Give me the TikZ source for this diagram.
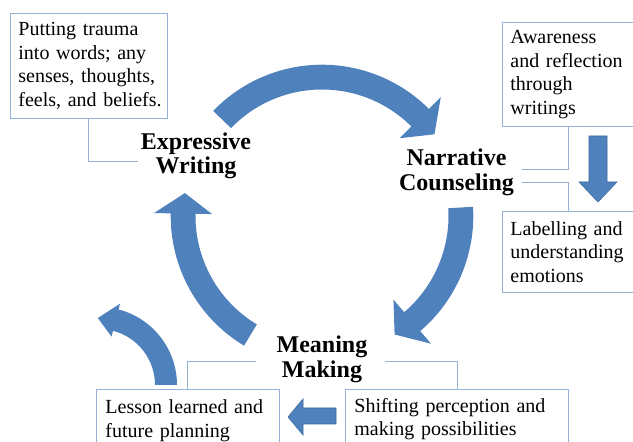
\documentclass[tikz,border=0pt]{standalone}
\usepackage{fontspec}
\setmainfont{Liberation Serif}
\definecolor{arrowblue}{HTML}{4F81BD}
\definecolor{arrowedge}{HTML}{3C6A9E}
\definecolor{boxline}{HTML}{95B3D7}
\begin{document}
\begin{tikzpicture}[x=1pt,y=1pt,
  box/.style={draw=boxline, line width=0.8pt, rectangle, anchor=north west, align=left,
    inner xsep=8pt, inner ysep=0pt, font=\fontsize{20}{23.5}\selectfont},
  lbl/.style={align=center, font=\bfseries\fontsize{24}{24.5}\selectfont, inner sep=0pt},
  conn/.style={draw=boxline, line width=0.8pt},
  ring/.style={fill=arrowblue},
  block/.style={fill=arrowblue, draw=arrowedge, line width=0.6pt, line join=miter}]
\clip (0,0) rectangle (633,442);
% boxes
\node[box, text width=141pt, minimum height=105pt] (b1) at (10,429)
  {\mbox{Putting trauma}\\\mbox{into words; any}\\\mbox{senses, thoughts,}\\\mbox{feels, and beliefs.}};
\node[box, text width=124pt, minimum height=104pt] (b2) at (502,420)
  {\mbox{Awareness}\\\mbox{and reflection}\\\mbox{through}\\\mbox{writings}};
\node[box, text width=124pt, minimum height=81pt] (b3) at (502,231)
  {\mbox{Labelling and}\\\mbox{understanding}\\\mbox{emotions}};
\node[box, inner xsep=9pt, text width=165pt, minimum height=62.6pt] (b4) at (96,53)
  {\mbox{Lesson learned and}\\\mbox{future planning}};
\node[box, inner xsep=9pt, text width=205pt, minimum height=59.6pt] (b5) at (345,53)
  {\mbox{Shifting perception and}\\\mbox{making possibilities}};
% labels
\node[lbl] (ew) at (196,286.1) {Expressive\\Writing};
\node[lbl] (nc) at (456.5,269.9) {Narrative\\Counseling};
\node[lbl] (mm) at (322,82.7) {Meaning\\Making};
% connectors
\coordinate (e1) at (138,281);
\draw[conn] ([xshift=78pt]b1.south west) |- (e1);
\coordinate (e2) at (522,273);
\draw[conn] ([xshift=66pt]b2.south west) |- (e2);
\coordinate (e3) at (522,260);
\draw[conn] (e3) -| ([xshift=66pt]b3.north west);
\coordinate (e4) at (256,81);
\draw[conn] ([xshift=91pt]b4.north west) |- (e4);
\coordinate (e5) at (385,81);
\draw[conn] ([xshift=112pt]b5.north west) |- (e5);
% ring arrows
\begin{scope}[shift={(322,226)}]
\fill[ring] (136:151.3) arc[start angle=136,end angle=45,radius=151.3pt]
  -- (45:168) -- (36:139) -- (45:110) -- (45:126.5)
  arc[start angle=45,end angle=136,radius=126.5pt] -- cycle;
\fill[ring] (3.5:151.3) arc[start angle=3.5,end angle=-49.5,radius=151.3pt]
  -- (-49.5:168) -- (-58.5:139) -- (-49.5:110) -- (-49.5:126.5)
  arc[start angle=-49.5,end angle=3.5,radius=126.5pt] -- cycle;
\fill[ring] (239:151.3) arc[start angle=239,end angle=179,radius=151.3pt]
  -- (179:168) -- (170.5:139) -- (179:110) -- (179:126.5)
  arc[start angle=179,end angle=239,radius=126.5pt] -- cycle;
\end{scope}
% small curved arrow
\begin{scope}[shift={(99,57)}]
\fill[ring] (0:78) arc[start angle=0,end angle=75.5,radius=78pt]
  -- (75.5:84) -- (91:67) -- (75.5:50) -- (75.5:56)
  arc[start angle=75.5,end angle=0,radius=56pt] -- cycle;
\end{scope}
% block arrows
\draw[block] (589,306) -- (607,306) -- (607,260) -- (617,260) -- (598,240)
  -- (579,260) -- (589,260) -- cycle;
\draw[block] (336,34) -- (336,18) -- (303,18) -- (303,7) -- (288,25)
  -- (303,43) -- (303,34) -- cycle;
\end{tikzpicture}
\end{document}
